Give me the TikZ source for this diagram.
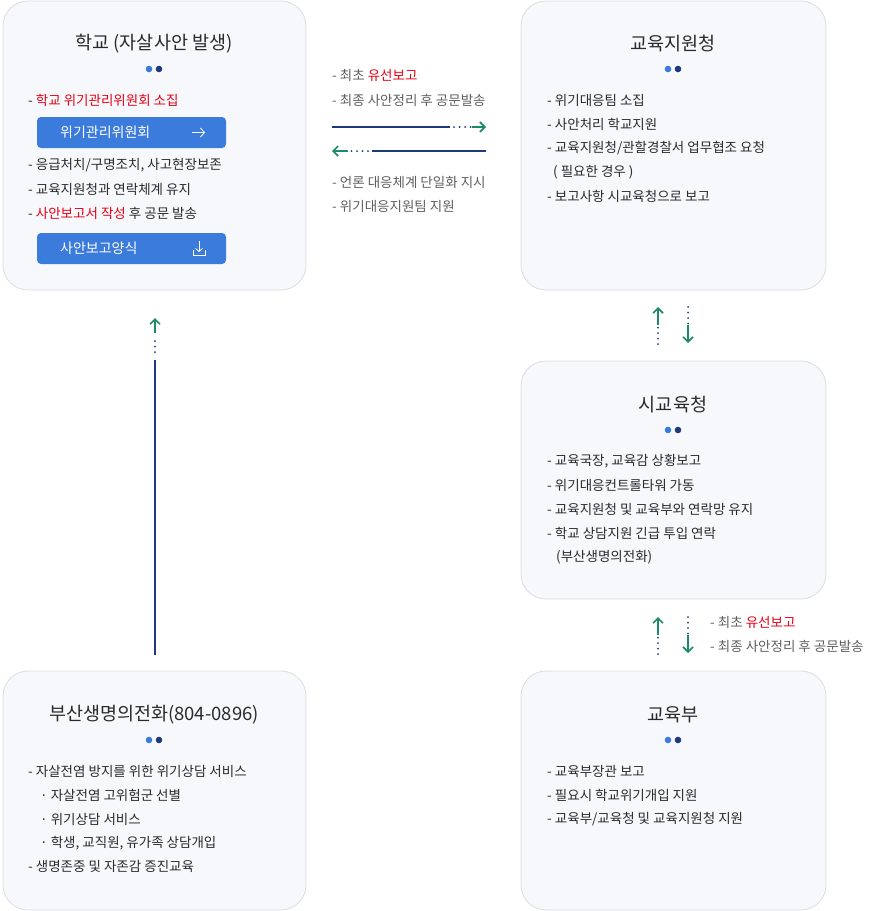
\documentclass[tikz,border=0pt]{standalone}
\usepackage{fontspec}
\setmainfont{Noto Sans CJK KR}
\usetikzlibrary{arrows.meta}
\definecolor{boxfill}{HTML}{F7F8FC}
\definecolor{boxline}{HTML}{DCDDE3}
\definecolor{navy}{HTML}{1F3A7A}
\definecolor{teal}{HTML}{1E8A6A}
\definecolor{btnblue}{HTML}{3A7BDB}
\definecolor{dotblue}{HTML}{3A7BDB}
\definecolor{hotred}{HTML}{E60012}
\definecolor{txt}{HTML}{2A2A2A}
\definecolor{grey}{HTML}{5E5E5E}
\tikzset{
  panel/.style={draw=boxline, fill=boxfill, rounded corners=25pt, line width=0.8pt},
  title/.style={font=\fontsize{18.5}{21}\selectfont, text=txt},
  item/.style={anchor=west, font=\fontsize{13.5}{15}\selectfont, text=txt, inner sep=0pt},
  note/.style={anchor=west, font=\fontsize{13.5}{15}\selectfont, text=grey, inner sep=0pt},
  btn/.style={fill=btnblue, rounded corners=4pt},
  btntext/.style={anchor=west, font=\fontsize{14}{15}\selectfont, text=white, inner sep=0pt},
  flow/.style={navy, line width=1.4pt},
  dots/.style={navy, line width=2pt, line cap=round, dash pattern=on 0pt off 5.5pt},
  tip/.style={teal, line width=1.6pt, -{Straight Barb[length=5pt,width=10pt]}}
}
\newcommand{\red}[1]{\textcolor{hotred}{#1}}
\newcommand{\pair}[2]{% dots under a title
  \fill[dotblue] (#1-5,#2) circle (3.3pt);
  \fill[navy] (#1+5,#2) circle (3.3pt);}
\begin{document}
\begin{tikzpicture}[x=1pt,y=-1pt]
  \useasboundingbox (0,0) rectangle (881,911);

  % panels
  \draw[panel] (3,1) rectangle (306,290);
  \draw[panel] (521,1) rectangle (826,290);
  \draw[panel] (521,361) rectangle (826,599);
  \draw[panel] (3,671) rectangle (306,910);
  \draw[panel] (521,671) rectangle (826,910);

  % school
  \node[title] (school) at (154,44) {학교 (자살사안 발생)};
  \pair{154}{69}
  \node[item] (s1) at (28,100) {- \red{학교 위기관리위원회 소집}};
  \fill[btn] (37,117) rectangle (226,148);
  \node[btntext] (b1) at (60,132.5) {위기관리위원회};
  \draw[white, line width=0.8pt, -{Straight Barb[length=4pt,width=9pt]}] (192,132.5) -- (205,132.5);
  \node[item] (s2) at (28,165) {- 응급처치/구명조치, 사고현장보존};
  \node[item] (s3) at (28,189) {- 교육지원청과 연락체계 유지};
  \node[item] (s4) at (28,213) {- \red{사안보고서 작성} 후 공문 발송};
  \fill[btn] (37,233) rectangle (226,264);
  \node[btntext] (b2) at (60,248.5) {사안보고양식};
  \draw[white, line width=0.8pt, -{Straight Barb[length=3pt,width=7pt]}] (199,241) -- (199,252);
  \draw[white, line width=0.8pt] (193,250) -- (193,255) -- (205,255) -- (205,250);

  % district office
  \node[title] (district) at (673,44) {교육지원청};
  \pair{673}{69}
  \node[item] (d1) at (547,100) {- 위기대응팀 소집};
  \node[item] (d2) at (547,124) {- 사안처리 학교지원};
  \node[item] (d3) at (547,148) {- 교육지원청/관할경찰서 업무협조 요청};
  \node[item] (d4) at (553,172) {( 필요한 경우 )};
  \node[item] (d5) at (547,196) {- 보고사항 시교육청으로 보고};

  % city office
  \node[title] (city) at (673,405) {시교육청};
  \pair{673}{430}
  \node[item] (c1) at (547,461) {- 교육국장, 교육감 상황보고};
  \node[item] (c2) at (547,485) {- 위기대응컨트롤타워 가동};
  \node[item] (c3) at (547,509) {- 교육지원청 및 교육부와 연락망 유지};
  \node[item] (c4) at (547,533) {- 학교 상담지원 긴급 투입 연락};
  \node[item] (c5) at (556,557) {(부산생명의전화)};

  % lifeline
  \node[title] (life) at (154,715) {부산생명의전화(804-0896)};
  \pair{154}{740}
  \node[item] (l1) at (28,771) {- 자살전염 방지를 위한 위기상담 서비스};
  \node[item] (l2) at (40,795) {· 자살전염 고위험군 선별};
  \node[item] (l3) at (40,819) {· 위기상담 서비스};
  \node[item] (l4) at (40,843) {· 학생, 교직원, 유가족 상담개입};
  \node[item] (l5) at (28,866) {- 생명존중 및 자존감 증진교육};

  % ministry
  \node[title] (ministry) at (673,715) {교육부};
  \pair{673}{740}
  \node[item] (m1) at (547,771) {- 교육부장관 보고};
  \node[item] (m2) at (547,795) {- 필요시 학교위기개입 지원};
  \node[item] (m3) at (547,819) {- 교육부/교육청 및 교육지원청 지원};

  % school <-> district
  \node[note] (n1) at (332,75) {- 최초 \red{유선보고}};
  \node[note] (n2) at (332,100) {- 최종 사안정리 후 공문발송};
  \coordinate (r0) at (332,127); \coordinate (r1) at (450,127);
  \coordinate (r2) at (472,127); \coordinate (r3) at (486,127);
  \draw[flow] (r0) -- (r1);
  \draw[dots] (r1)+(4,0) -- (r2);
  \draw[tip] (r2) -- (r3);
  \coordinate (q0) at (486,151); \coordinate (q1) at (372,151);
  \coordinate (q2) at (348,151); \coordinate (q3) at (332,151);
  \draw[flow] (q0) -- (q1);
  \draw[dots] (q1)+(-4,0) -- (q2);
  \draw[tip] (q2) -- (q3);
  \node[note] (n3) at (332,182) {- 언론 대응체계 단일화 지시};
  \node[note] (n4) at (332,206) {- 위기대응지원팀 지원};

  % district <-> city
  \foreach \y in {307,617}{
    \draw[dots] (658,\y+37) -- (658,\y+20);
    \draw[tip] (658,\y+18) -- (658,\y);
    \draw[dots] (688,\y) -- (688,\y+17);
    \draw[tip] (688,\y+18) -- (688,\y+36);
  }
  \node[note] (n5) at (710,622) {- 최초 \red{유선보고}};
  \node[note] (n6) at (710,646) {- 최종 사안정리 후 공문발송};

  % lifeline -> school
  \draw[flow] (155,655) -- (155,360);
  \draw[dots] (155,352) -- (155,336);
  \draw[tip] (155,333) -- (155,318);
\end{tikzpicture}
\end{document}
